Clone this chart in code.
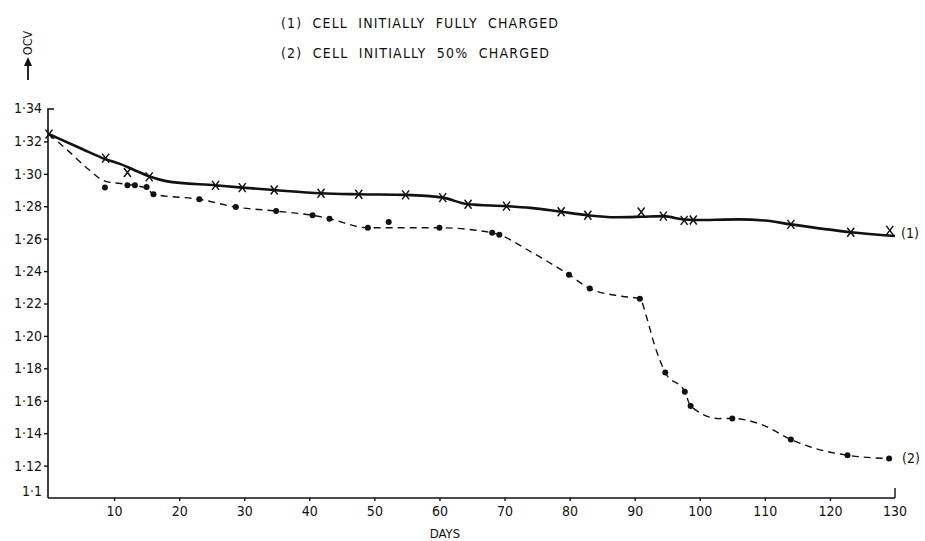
<!DOCTYPE html>
<html>
<head>
<meta charset="utf-8">
<script src="https://cdn.jsdelivr.net/npm/d3@7"></script>
<style>
	body { margin: 0; background: #fff; }
	svg text { font-family: 'DejaVu Sans Condensed', 'DejaVu Sans', sans-serif; fill: #111; }
</style>
</head>
<body>
<div id="chart"></div>
<script>
// (1) CELL INITIALLY FULLY CHARGED - measured points (crosses)
var days1 = [0, 8.7, 12.05, 15.4, 25.6, 29.7, 34.6, 41.8, 47.6, 54.8, 60.5, 64.4, 70.3, 78.7, 82.8, 91.0, 94.4, 97.6, 99.0, 114.0, 123.2, 129.2];
var ocv1 = [1.3245, 1.3097, 1.3008, 1.2981, 1.2929, 1.2915, 1.2900, 1.2880, 1.2874, 1.2870, 1.2853, 1.2812, 1.2801, 1.2766, 1.2745, 1.2764, 1.2739, 1.2713, 1.2715, 1.2688, 1.2640, 1.2651];
// (1) drawn curve
var curveDays1 = [0, 5, 8.7, 11, 13, 15.4, 18, 25.6, 29.7, 34.6, 41.8, 47.6, 54.8, 60.5, 64.4, 70.3, 74, 78.7, 82.8, 87, 91, 94.4, 97.6, 99, 106, 110, 114, 123.2, 130];
var curveOcv1 = [1.3245, 1.3155, 1.3090, 1.3060, 1.3025, 1.2985, 1.2955, 1.2929, 1.2915, 1.2900, 1.2880, 1.2874, 1.2870, 1.2853, 1.2812, 1.2801, 1.2790, 1.2766, 1.2744, 1.2732, 1.2735, 1.2739, 1.2718, 1.2715, 1.2719, 1.2712, 1.2688, 1.2640, 1.2616];

// (2) CELL INITIALLY 50% CHARGED - measured points (dots)
var days2 = [8.6, 12.05, 13.2, 15.0, 16.05, 23.1, 28.7, 34.9, 40.5, 43.1, 49.0, 52.2, 60.0, 68.1, 69.2, 79.9, 83.1, 90.8, 94.7, 97.7, 98.6, 105.0, 114.0, 122.7, 129.1];
var ocv2 = [1.2915, 1.2929, 1.2929, 1.2919, 1.2874, 1.2843, 1.2795, 1.2770, 1.2744, 1.2723, 1.2667, 1.2703, 1.2667, 1.2636, 1.2624, 1.2378, 1.2292, 1.2230, 1.1774, 1.1656, 1.1567, 1.1491, 1.1361, 1.1264, 1.1243];
// (2) drawn curve
var curveDays2 = [0, 3, 6, 8.6, 12, 15, 16.05, 23.1, 28.7, 34.9, 40.5, 43.1, 49, 60, 66, 69.2, 74, 79.9, 83.1, 88, 90.8, 91.8, 93, 94.7, 97.7, 98.6, 103, 105, 109.7, 114, 116.9, 122.7, 129.1];
var curveOcv2 = [1.3245, 1.3140, 1.3030, 1.2955, 1.2935, 1.2910, 1.2874, 1.2843, 1.2795, 1.2770, 1.2744, 1.2723, 1.2667, 1.2667, 1.2650, 1.2624, 1.2520, 1.2378, 1.2292, 1.2245, 1.2230, 1.2120, 1.1950, 1.1774, 1.1656, 1.1567, 1.1490, 1.1491, 1.1450, 1.1361, 1.1316, 1.1264, 1.1243];

var yTicks = [1.12, 1.14, 1.16, 1.18, 1.20, 1.22, 1.24, 1.26, 1.28, 1.30, 1.32, 1.34];
var yTickLabels = ['1·12', '1·14', '1·16', '1·18', '1·20', '1·22', '1·24', '1·26', '1·28', '1·30', '1·32', '1·34'];
var xTicks = [10, 20, 30, 40, 50, 60, 70, 80, 90, 100, 110, 120, 130];
var legendLines = ['(1)  CELL  INITIALLY  FULLY  CHARGED', '(2)  CELL  INITIALLY  50%  CHARGED'];
var legendWidths = [277, 268];

var width = 925;
var height = 541;

var svg = d3
	.select('#chart')
	.append('svg')
	.attr('width', width)
	.attr('height', height);

var x = d3
	.scaleLinear()
	.domain([0, 130])
	.range([49, 895]);

var y = d3
	.scaleLinear()
	.domain([1.10, 1.34])
	.range([498, 109]);

// SET THE AXES
var xAxis = d3
	.axisBottom(x)
	.tickValues(xTicks.slice(0, -1))
	.tickSize(3)
	.tickSizeOuter(0)
	.tickFormat(d3.format('d'));

var gx = svg
	.append('g')
	.attr('transform', 'translate(0,' + y(1.10) + ')')
	.call(xAxis);

gx.select('.domain').attr('stroke', '#111').attr('stroke-width', 1.6).attr('d', 'M' + (x(0) - 1) + ',0H' + x(130));
gx.selectAll('.tick line').attr('stroke', '#111').attr('stroke-width', 1.4);
gx.selectAll('.tick text').attr('font-size', 14).attr('dy', '0.9em').attr('y', 5);

// last x tick goes up
gx
	.append('line')
	.attr('x1', x(130))
	.attr('x2', x(130))
	.attr('y1', 0)
	.attr('y2', -10)
	.attr('stroke', '#111')
	.attr('stroke-width', 1.4);

gx
	.append('text')
	.attr('x', x(130))
	.attr('y', 5)
	.attr('dy', '0.9em')
	.attr('text-anchor', 'middle')
	.attr('font-size', 14)
	.text('130');

var yAxis = d3
	.axisLeft(y)
	.tickValues(yTicks.slice(0, -1))
	.tickSize(4)
	.tickSizeOuter(0)
	.tickFormat(function(d, i){ return yTickLabels[i]; });

var gy = svg
	.append('g')
	.attr('transform', 'translate(' + (x(0) - 1) + ',0)')
	.call(yAxis);

gy.select('.domain').attr('stroke', '#111').attr('stroke-width', 1.6).attr('d', 'M0,' + y(1.10) + 'V' + y(1.34) + 'H6');
gy.selectAll('.tick line').attr('stroke', '#111').attr('stroke-width', 1.4);
gy.selectAll('.tick text').attr('font-size', 14).attr('x', -6);

gy
	.append('text')
	.attr('x', -6)
	.attr('y', y(1.34) + 4)
	.attr('text-anchor', 'end')
	.attr('font-size', 14)
	.text('1·34');

gy
	.append('text')
	.attr('x', -6)
	.attr('y', y(1.10) - 2)
	.attr('text-anchor', 'end')
	.attr('font-size', 14)
	.text('1·1');

// AXIS TITLES
svg
	.append('text')
	.attr('x', 445)
	.attr('y', 538)
	.attr('text-anchor', 'middle')
	.attr('font-size', 13)
	.text('DAYS');

svg
	.append('text')
	.attr('transform', 'translate(32,43) rotate(-90)')
	.attr('text-anchor', 'middle')
	.attr('font-size', 12.5)
	.text('OCV');

svg
	.append('line')
	.attr('x1', 28)
	.attr('x2', 28)
	.attr('y1', 80)
	.attr('y2', 64)
	.attr('stroke', '#111')
	.attr('stroke-width', 1.8);

svg
	.append('path')
	.attr('d', 'M28,57L24,66L32,66Z')
	.attr('fill', '#111');

// LEGEND
svg
	.selectAll('.legend')
	.data(legendLines)
	.enter()
	.append('text')
	.attr('class', 'legend')
	.attr('x', 281)
	.attr('y', function(d, i){ return 28 + i * 30; })
	.attr('font-size', 14)
	.attr('textLength', function(d, i){ return legendWidths[i]; })
	.attr('lengthAdjust', 'spacing')
	.attr('xml:space', 'preserve')
	.style('white-space', 'pre')
	.text(function(d){ return d; });

// SET THE CURVES
var line = d3
	.line()
	.x(function(d){ return x(d[0]); })
	.y(function(d){ return y(d[1]); })
	.curve(d3.curveMonotoneX);

svg
	.append('path')
	.datum(d3.zip(curveDays1, curveOcv1))
	.attr('fill', 'none')
	.attr('stroke', '#111')
	.attr('stroke-width', 2.6)
	.attr('d', line);

svg
	.append('path')
	.datum(d3.zip(curveDays2, curveOcv2))
	.attr('fill', 'none')
	.attr('stroke', '#111')
	.attr('stroke-width', 1.4)
	.attr('stroke-dasharray', '7,5')
	.attr('d', line);

// SET THE MARKERS
svg
	.selectAll('.cross')
	.data(d3.zip(days1, ocv1))
	.enter()
	.append('path')
	.attr('class', 'cross')
	.attr('d', function(d){
		var cx = x(d[0]), cy = y(d[1]);
		return 'M' + (cx - 3.5) + ',' + (cy - 4.5) + 'L' + (cx + 3.5) + ',' + (cy + 4.5) +
			'M' + (cx + 3.5) + ',' + (cy - 4.5) + 'L' + (cx - 3.5) + ',' + (cy + 4.5);
	})
	.attr('stroke', '#111')
	.attr('stroke-width', 1.5);

svg
	.selectAll('.dot')
	.data(d3.zip(days2, ocv2))
	.enter()
	.append('circle')
	.attr('class', 'dot')
	.attr('cx', function(d){ return x(d[0]); })
	.attr('cy', function(d){ return y(d[1]); })
	.attr('r', 3)
	.attr('fill', '#111');

// SERIES LABELS
svg
	.append('text')
	.attr('x', 901)
	.attr('y', y(curveOcv1[curveOcv1.length - 1]) + 2)
	.attr('font-size', 14)
	.text('(1)');

svg
	.append('text')
	.attr('x', 902)
	.attr('y', y(ocv2[ocv2.length - 1]) + 4)
	.attr('font-size', 14)
	.text('(2)');
</script>
</body>
</html>
